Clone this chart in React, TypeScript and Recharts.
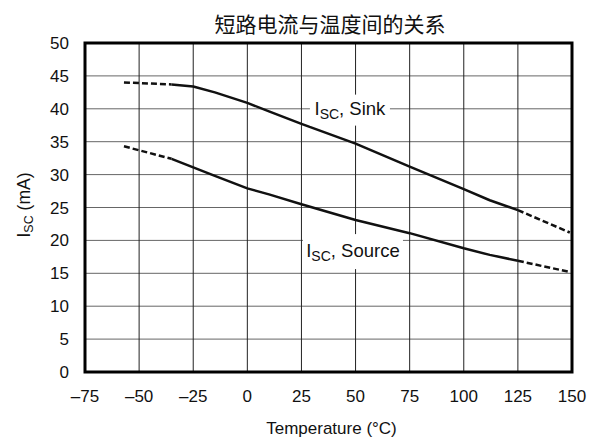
import React from "react";
import {
  LineChart,
  Line,
  XAxis,
  YAxis,
  CartesianGrid,
  ReferenceArea,
  ReferenceDot,
} from "recharts";

// temperature (°C) and short-circuit current (mA)
const temps = [-57, -35, -25, -15, 0, 10, 25, 50, 75, 100, 112, 125, 149];
const sinkMa = [44.0, 43.7, 43.4, 42.5, 40.9, 39.6, 37.7, 34.7, 31.2, 27.8, 26.1, 24.6, 21.2];
const sourceMa = [34.3, 32.4, 31.1, 29.8, 27.9, 27.0, 25.5, 23.1, 21.1, 18.8, 17.8, 16.9, 15.2];

// curves are solid only inside the specified range
const solidFrom = -35;
const solidTo = 125;

const xTicks = [-75, -50, -25, 0, 25, 50, 75, 100, 125, 150];
const yTicks = [0, 5, 10, 15, 20, 25, 30, 35, 40, 45, 50];

const title = "短路电流与温度间的关系";

const rows = temps.map((t, i) => ({
  t,
  sinkLo: t <= solidFrom ? sinkMa[i] : null,
  sinkMid: t >= solidFrom && t <= solidTo ? sinkMa[i] : null,
  sinkHi: t >= solidTo ? sinkMa[i] : null,
  srcLo: t <= solidFrom ? sourceMa[i] : null,
  srcMid: t >= solidFrom && t <= solidTo ? sourceMa[i] : null,
  srcHi: t >= solidTo ? sourceMa[i] : null,
}));

const FONT = "'Liberation Sans', Arial, Helvetica, sans-serif";
const INK = "#111";

const fmt = (v: number) => (v < 0 ? "\u2013" + Math.abs(v) : String(v));

const CurveLabel = ({ viewBox, name, w, h }: any) => {
  const cx = viewBox.x + viewBox.width / 2;
  const cy = viewBox.y + viewBox.height / 2;
  return (
    <g>
      <rect x={cx - w / 2} y={cy - h / 2} width={w} height={h} fill="#fff" />
      <text x={cx} y={cy + 5} textAnchor="middle" fontFamily={FONT} fontSize={18.5} fill={INK}>
        I
        <tspan fontSize={14} dy={4}>SC</tspan>
        <tspan dy={-4}>, {name}</tspan>
      </text>
    </g>
  );
};

const YLabel = ({ viewBox }: any) => {
  const x = 30;
  const y = 205;
  return (
    <text
      x={x}
      y={y}
      transform={`rotate(-90 ${x} ${y})`}
      textAnchor="middle"
      fontFamily={FONT}
      fontSize={17.5}
      fill={INK}
    >
      I
      <tspan fontSize={12.5} dy={3}>SC</tspan>
      <tspan dy={-3}> (mA)</tspan>
    </text>
  );
};

const XLabel = ({ viewBox }: any) => (
  <text
    x={viewBox.x + viewBox.width / 2 + 3}
    y={434}
    textAnchor="middle"
    fontFamily={FONT}
    fontSize={17}
    fill={INK}
  >
    Temperature (°C)
  </text>
);

export default function App() {
  const tick = { fontFamily: FONT, fontSize: 17, fill: INK };
  return (
    <div style={{ position: "fixed", left: 0, top: 0, width: 597, height: 439, background: "#fff" }}>
      <div
        style={{
          position: "absolute",
          left: 0,
          top: 8,
          width: 660,
          textAlign: "center",
          fontFamily: "'Noto Sans CJK SC', sans-serif",
          fontSize: 21,
          lineHeight: "31px",
          color: INK,
        }}
      >
        {title}
      </div>
      <LineChart
        width={597}
        height={439}
        data={rows}
        margin={{ top: 43, right: 25, bottom: 37, left: 25 }}
      >
        <CartesianGrid horizontal vertical={false} stroke="#666" strokeWidth={1} />
        <CartesianGrid horizontal={false} vertical stroke="#222" strokeWidth={1} />
        <XAxis
          dataKey="t"
          type="number"
          domain={[-75, 150]}
          ticks={xTicks}
          tickFormatter={fmt}
          tickLine={false}
          axisLine={false}
          tickSize={0}
          tickMargin={18}
          height={30}
          tick={tick}
          label={{ content: <XLabel /> }}
        />
        <YAxis
          type="number"
          domain={[0, 50]}
          ticks={yTicks}
          tickLine={false}
          axisLine={false}
          tickSize={0}
          tickMargin={16}
          width={60}
          tick={tick}
          label={{ content: <YLabel /> }}
        />
        <ReferenceArea x1={-75} x2={150} y1={0} y2={50} fill="none" fillOpacity={0} stroke="#000" strokeWidth={3} />
        <ReferenceDot
          x={47.4}
          y={39.8}
          r={0}
          fill="none"
          stroke="none"
          label={{ content: (p: any) => <CurveLabel {...p} name="Sink" w={80} h={31} /> }}
        />
        <ReferenceDot
          x={48.8}
          y={18.3}
          r={0}
          fill="none"
          stroke="none"
          label={{ content: (p: any) => <CurveLabel {...p} name="Source" w={100} h={35} /> }}
        />
        <Line dataKey="sinkLo" stroke={INK} strokeWidth={2.5} strokeDasharray="6 3" dot={false} isAnimationActive={false} />
        <Line dataKey="sinkMid" stroke={INK} strokeWidth={2.5} strokeLinejoin="round" dot={false} isAnimationActive={false} />
        <Line dataKey="sinkHi" stroke={INK} strokeWidth={2.5} strokeDasharray="6 3" dot={false} isAnimationActive={false} />
        <Line dataKey="srcLo" stroke={INK} strokeWidth={2.5} strokeDasharray="6 3" dot={false} isAnimationActive={false} />
        <Line dataKey="srcMid" stroke={INK} strokeWidth={2.5} strokeLinejoin="round" dot={false} isAnimationActive={false} />
        <Line dataKey="srcHi" stroke={INK} strokeWidth={2.5} strokeDasharray="6 3" dot={false} isAnimationActive={false} />
      </LineChart>
    </div>
  );
}
